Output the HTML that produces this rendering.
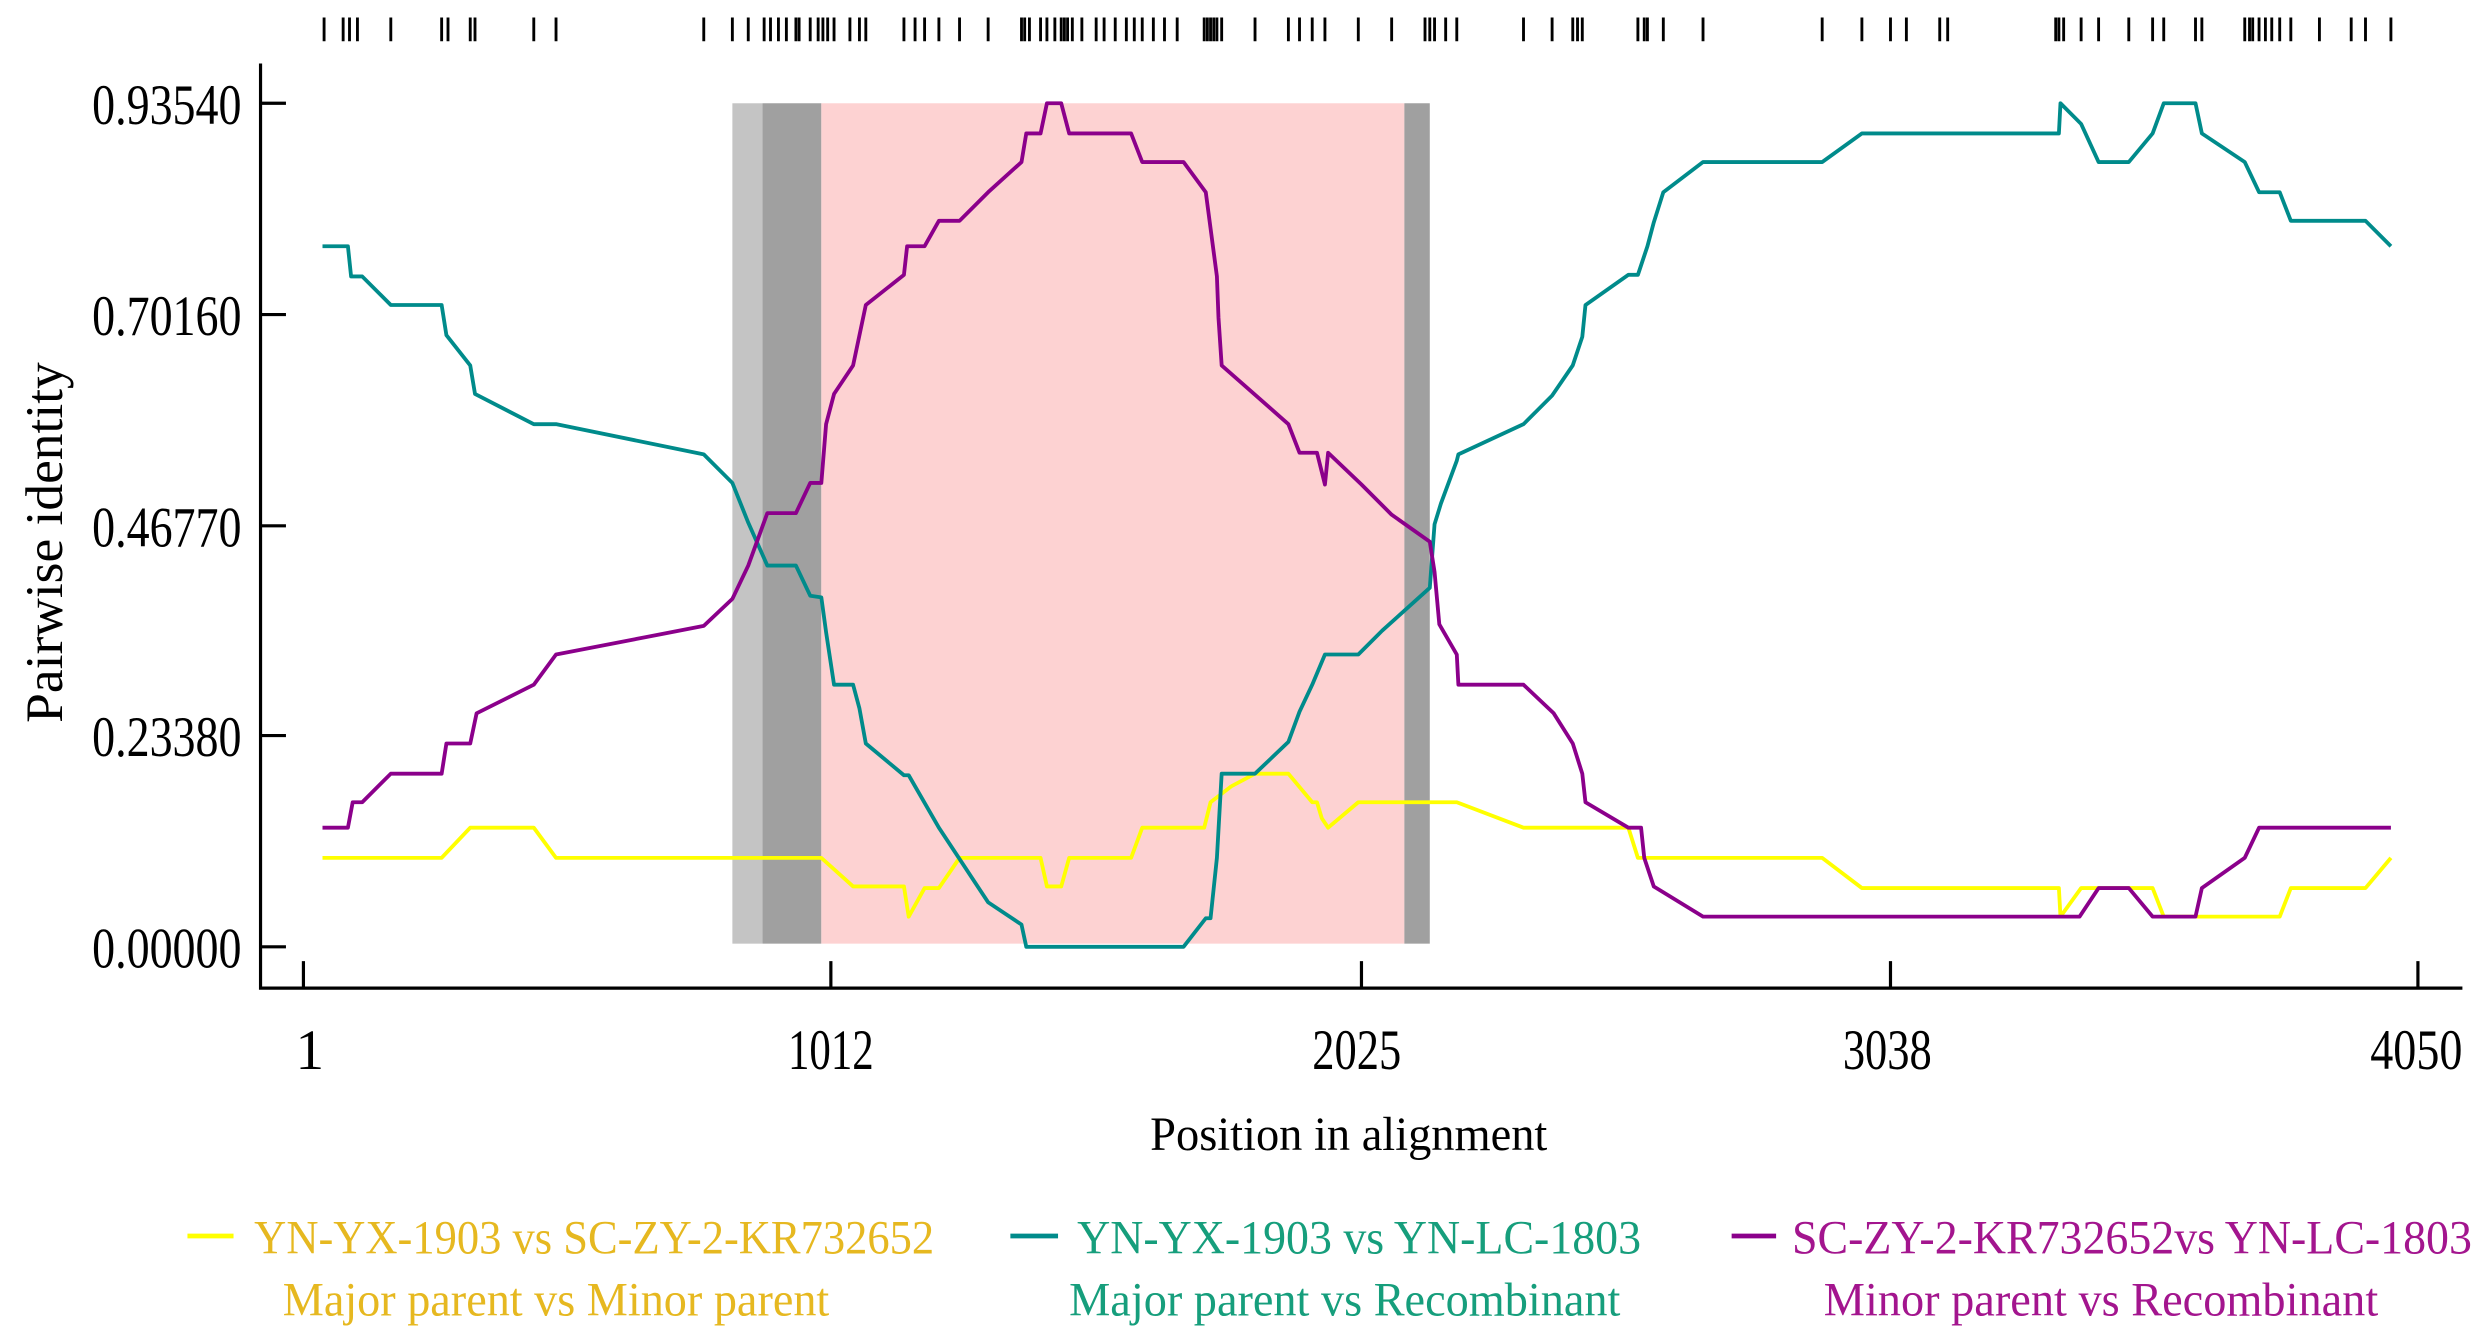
<!DOCTYPE html>
<html><head><meta charset="utf-8"><style>html,body{margin:0;padding:0;background:#fff}svg{display:block}</style></head>
<body>
<svg width="2491" height="1337" viewBox="0 0 1568 841.6" preserveAspectRatio="none" xmlns="http://www.w3.org/2000/svg" font-family="Liberation Serif, serif">
<rect x="0" y="0" width="1568" height="842" fill="#fff"/>
<rect x="461" y="65" width="19" height="529" fill="#c4c4c4"/>
<rect x="480" y="65" width="37" height="529" fill="#a0a0a0"/>
<rect x="517" y="65" width="367" height="529" fill="#fdd2d2"/>
<rect x="884" y="65" width="16" height="529" fill="#a0a0a0"/>
<g stroke="#000" stroke-width="2" fill="none">
<path d="M164 40V622H1550"/>
<path d="M164 65H180M164 198H180M164 331H180M164 463H180M164 596H180"/>
<path d="M191 622V605M523 622V605M857 622V605M1190 622V605M1522 622V605"/>
</g>
<g stroke="#000" stroke-width="1.8">
<path d="M204 11V26M216 11V26M220 11V26M225 11V26M246 11V26M278 11V26M282 11V26M296 11V26M299 11V26M336 11V26M350 11V26M443 11V26M461 11V26M471 11V26M481 11V26M485 11V26M490 11V26M495 11V26M501 11V26M503 11V26M510 11V26M515 11V26M518 11V26M521 11V26M525 11V26M535 11V26M541 11V26M545 11V26M569 11V26M576 11V26M582 11V26M591 11V26M604 11V26M622 11V26M643 11V26M645 11V26M648 11V26M655 11V26M659 11V26M664 11V26M668 11V26M670 11V26M672 11V26M675 11V26M681 11V26M690 11V26M695 11V26M702 11V26M709 11V26M714 11V26M719 11V26M726 11V26M733 11V26M741 11V26M758 11V26M760 11V26M762 11V26M764 11V26M766 11V26M769 11V26M790 11V26M811 11V26M818 11V26M826 11V26M834 11V26M855 11V26M876 11V26M897 11V26M900 11V26M903 11V26M910 11V26M917 11V26M959 11V26M977 11V26M990 11V26M993 11V26M996 11V26M1031 11V26M1035 11V26M1037 11V26M1047 11V26M1072 11V26M1147 11V26M1172 11V26M1190 11V26M1200 11V26M1221 11V26M1226 11V26M1294 11V26M1296 11V26M1299 11V26M1310 11V26M1321 11V26M1340 11V26M1355 11V26M1362 11V26M1382 11V26M1386 11V26M1413 11V26M1416 11V26M1418 11V26M1422 11V26M1426 11V26M1430 11V26M1435 11V26M1442 11V26M1460 11V26M1480 11V26M1489 11V26M1505 11V26"/>
</g>
<g fill="none" stroke-width="2.4" stroke-linejoin="round">
<polyline stroke="#ffff00" points="203,540 278,540 296,521 336,521 350,540 517,540 537,558 569,558 572,577 582,559 591,559 604,540 655,540 659,558 668,558 673,540 712,540 719,521 758,521 762,505 775,495 790,487 811,487 826,505 829,505 832,515 836,521 855,505 917,505 959,521 1025,521 1031,540 1147,540 1172,559 1296,559 1297,577 1310,559 1355,559 1362,577 1435,577 1442,559 1489,559 1505,540"/>
<polyline stroke="#008b8b" points="203,155 219,155 221,174 228,174 246,192 278,192 281,211 296,230 299,248 336,267 350,267 443,286 461,304 471,329 483,356 501,356 510,375 517,376 520,398 525,431 537,431 541,446 545,468 569,488 572,488 591,521 622,568 643,582 646,596 745,596 759,578 762,578 766,540 769,487 790,487 811,467 818,448 826,431 834,412 855,412 870,397 900,370 903,330 907,317 917,290 918,286 959,267 977,249 990,230 996,212 998,192 1025,173 1031,173 1037,155 1041,140 1047,121 1072,102 1147,102 1172,84 1296,84 1297,65 1310,78 1321,102 1340,102 1355,84 1362,65 1382,65 1386,84 1413,102 1422,121 1435,121 1442,139 1489,139 1505,155"/>
<polyline stroke="#8b008b" points="203,521 219,521 222,505 228,505 246,487 278,487 281,468 296,468 300,449 336,431 350,412 443,394 461,377 471,356 483,323 501,323 510,304 517,304 520,267 525,248 537,230 545,192 569,173 571,155 582,155 591,139 604,139 622,121 643,102 646,84 655,84 659,65 668,65 673,84 712,84 719,102 745,102 759,121 766,174 767,200 769,230 811,267 818,285 829,285 834,305 836,285 857,305 876,324 900,341 903,360 906,393 917,412 918,431 959,431 978,449 990,468 996,487 998,505 1025,521 1033,521 1035,540 1041,558 1072,577 1309,577 1321,559 1340,559 1355,577 1382,577 1386,559 1413,540 1422,521 1505,521"/>
</g>
<g font-size="36" fill="#000" text-anchor="end">
<text x="152" y="78" textLength="94" lengthAdjust="spacingAndGlyphs">0.93540</text>
<text x="152" y="211" textLength="94" lengthAdjust="spacingAndGlyphs">0.70160</text>
<text x="152" y="344" textLength="94" lengthAdjust="spacingAndGlyphs">0.46770</text>
<text x="152" y="476" textLength="94" lengthAdjust="spacingAndGlyphs">0.23380</text>
<text x="152" y="609" textLength="94" lengthAdjust="spacingAndGlyphs">0.00000</text>
</g>
<g font-size="36" fill="#000">
<text x="186" y="673">1</text>
<text x="496" y="673" textLength="54" lengthAdjust="spacingAndGlyphs">1012</text>
<text x="826" y="673" textLength="56" lengthAdjust="spacingAndGlyphs">2025</text>
<text x="1160" y="673" textLength="56" lengthAdjust="spacingAndGlyphs">3038</text>
<text x="1492" y="673" textLength="58" lengthAdjust="spacingAndGlyphs">4050</text>
</g>
<text x="724" y="724" font-size="30" textLength="250" lengthAdjust="spacingAndGlyphs">Position in alignment</text>
<text transform="translate(39,455) rotate(-90)" font-size="33" textLength="227" lengthAdjust="spacingAndGlyphs">Pairwise identity</text>
<g stroke-width="3">
<line x1="118" y1="778" x2="147" y2="778" stroke="#ffff00"/>
<line x1="636" y1="778" x2="666" y2="778" stroke="#008b8b"/>
<line x1="1090" y1="778" x2="1118" y2="778" stroke="#8b008b"/>
</g>
<g font-size="30">
<text x="160" y="789" fill="#e6b820" textLength="428" lengthAdjust="spacingAndGlyphs">YN-YX-1903 vs SC-ZY-2-KR732652</text>
<text x="678" y="789" fill="#169e7c" textLength="355" lengthAdjust="spacingAndGlyphs">YN-YX-1903 vs YN-LC-1803</text>
<text x="1128" y="789" fill="#a3158e" textLength="428" lengthAdjust="spacingAndGlyphs">SC-ZY-2-KR732652vs YN-LC-1803</text>
<text x="178" y="828" fill="#e6b820" textLength="344" lengthAdjust="spacingAndGlyphs">Major parent vs Minor parent</text>
<text x="673" y="828" fill="#169e7c" textLength="347" lengthAdjust="spacingAndGlyphs">Major parent vs Recombinant</text>
<text x="1148" y="828" fill="#a3158e" textLength="349" lengthAdjust="spacingAndGlyphs">Minor parent vs Recombinant</text>
</g>
</svg>
</body></html>
